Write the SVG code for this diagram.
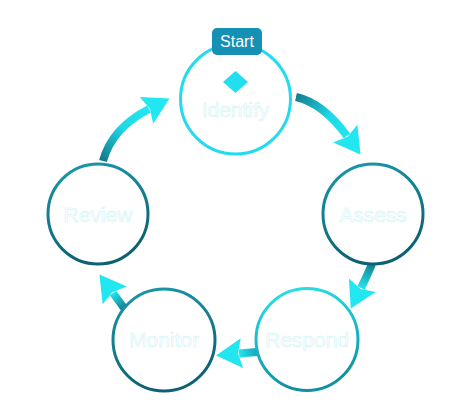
<svg xmlns="http://www.w3.org/2000/svg" width="471" height="411" viewBox="0 0 471 411">
  <style>
    .node-ring { fill: #ffffff; stroke-width: 3; }
    .label { font-family: "Liberation Sans", Arial, sans-serif; font-size: 21px; fill: #f7feff; stroke: #cdf3f7; stroke-width: 0.5; text-anchor: middle; }
    .badge-text { font-family: "Liberation Sans", Arial, sans-serif; font-size: 16px; fill: #ffffff; text-anchor: middle; }
    .shaft { fill: none; stroke-width: 8; stroke-linecap: butt; }
  </style>
  <defs>
    <linearGradient id="gTeal" x1="0" y1="0" x2="0.3" y2="1">
      <stop offset="0" stop-color="#1b9aac"/>
      <stop offset="1" stop-color="#0c6173"/>
    </linearGradient>
    <linearGradient id="gRespond" x1="0" y1="0" x2="0.2" y2="1">
      <stop offset="0" stop-color="#2ae4ee"/>
      <stop offset="1" stop-color="#0f90a3"/>
    </linearGradient>
    <linearGradient id="a1" gradientUnits="userSpaceOnUse" x1="296" y1="97" x2="347" y2="136">
      <stop offset="0" stop-color="#127f90"/>
      <stop offset="0.6" stop-color="#1fd8e8"/>
      <stop offset="1" stop-color="#22e6f0"/>
    </linearGradient>
    <linearGradient id="a2" gradientUnits="userSpaceOnUse" x1="372" y1="264" x2="361" y2="288">
      <stop offset="0" stop-color="#127f90"/>
      <stop offset="1" stop-color="#22e6f0"/>
    </linearGradient>
    <linearGradient id="a3" gradientUnits="userSpaceOnUse" x1="257" y1="352" x2="239" y2="354">
      <stop offset="0" stop-color="#15a5b5"/>
      <stop offset="1" stop-color="#22e6f0"/>
    </linearGradient>
    <linearGradient id="a4" gradientUnits="userSpaceOnUse" x1="124" y1="308" x2="113" y2="293">
      <stop offset="0" stop-color="#127f90"/>
      <stop offset="1" stop-color="#22e6f0"/>
    </linearGradient>
    <linearGradient id="a5" gradientUnits="userSpaceOnUse" x1="103" y1="161" x2="149" y2="109">
      <stop offset="0" stop-color="#117a8b"/>
      <stop offset="0.55" stop-color="#1fd8e8"/>
      <stop offset="1" stop-color="#22e6f0"/>
    </linearGradient>
    <marker id="head" markerUnits="userSpaceOnUse" markerWidth="26" markerHeight="32" viewBox="0 0 26 32" refX="3" refY="16" orient="auto">
      <path d="M0,1 L26,16 L0,31 L4,16 Z" fill="#22e6f0"/>
    </marker>
  </defs>

  <g id="connectors">
    <path class="shaft" d="M296,97 Q323,103 347,136" stroke="url(#a1)" marker-end="url(#head)"/>
    <path class="shaft" d="M372,264 Q367,276 361,288" stroke="url(#a2)" marker-end="url(#head)"/>
    <path class="shaft" d="M257,352 L239,353.5" stroke="url(#a3)" marker-end="url(#head)"/>
    <path class="shaft" d="M124,308 L113,293" stroke="url(#a4)" marker-end="url(#head)"/>
    <path class="shaft" d="M103,161 Q112,128 149,109" stroke="url(#a5)" marker-end="url(#head)"/>
  </g>

  <g id="node-identify">
    <circle class="node-ring" cx="235.5" cy="99" r="55" stroke="#24daee" stroke-width="2.6"/>
    <polygon points="235.5,71 248,82 235.5,93 223,82" fill="#22dfef"/>
    <text class="label" x="235.5" y="117">Identify</text>
    <rect x="212" y="28" width="50" height="27" rx="5" fill="#1491b5"/>
    <text class="badge-text" x="237" y="47">Start</text>
  </g>

  <g id="node-assess">
    <circle class="node-ring" cx="373" cy="214" r="50" stroke="url(#gTeal)"/>
    <text class="label" x="373" y="222">Assess</text>
  </g>

  <g id="node-respond">
    <circle class="node-ring" cx="307" cy="339.5" r="51" stroke="url(#gRespond)"/>
    <text class="label" x="307" y="346.5">Respond</text>
  </g>

  <g id="node-monitor">
    <circle class="node-ring" cx="164" cy="340" r="51" stroke="url(#gTeal)"/>
    <text class="label" x="164" y="347">Monitor</text>
  </g>

  <g id="node-review">
    <circle class="node-ring" cx="98" cy="214" r="50" stroke="url(#gTeal)"/>
    <text class="label" x="98" y="222">Review</text>
  </g>
</svg>
